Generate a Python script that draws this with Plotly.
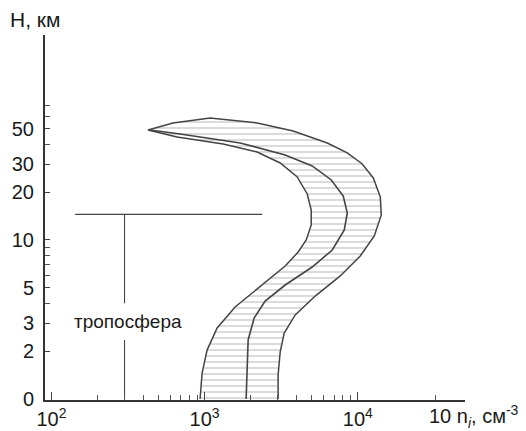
import plotly.graph_objects as go

# --- data (n_i in cm^-3, H in km) ---
# outer (right) boundary, bottom -> top -> top-left tip
right_n = [3020, 3020, 3116, 3309, 3905, 5275, 7685, 10380, 12820, 14240, 14030,
           12630, 10700, 8540, 6320, 3787, 2203, 1086, 622, 427]
right_h = [1.0, 1.42, 1.98, 2.60, 3.38, 4.44, 5.94, 7.93, 10.6, 14.36, 18.64,
           24.54, 30.06, 35.26, 40.74, 48.48, 54.43, 58.52, 54.43, 49.19]
# inner (left) boundary, tip -> bottom
left_n = [427, 661, 1321, 2203, 3116, 4024, 4677, 4967, 4967, 4607, 4084, 3358,
          2376, 1582, 1207, 1038, 963, 934]
left_h = [49.19, 44.45, 40.17, 35.77, 30.50, 24.90, 19.47, 15.44, 12.43, 10.0,
          8.41, 6.86, 5.21, 3.79, 2.80, 2.03, 1.457, 1.0]
# middle curve, tip -> bottom
mid_n = [440, 692, 1706, 3358, 5041, 6713, 8039, 8540, 8164, 6814, 5041, 3358,
         2485, 2106, 1924, 1896, 1867]
mid_h = [49.19, 46.42, 40.74, 34.24, 29.20, 23.85, 18.91, 14.79, 11.56, 8.65,
         6.76, 5.21, 4.13, 3.23, 2.35, 1.636, 1.0]

# tropopause marker
tropo_h = 14.5
tropo_n_span = [143, 2376]
tropo_n = 300
tropo_gap = [4.0, 2.35]

# ticks
y_tickvals = [1, 2, 3, 5, 10, 20, 30, 50]
y_ticktext = ["0", "2", "3", "5", "10", "20", "30", "50"]
y_minor = [4, 6, 7, 8, 9, 40, 60, 70]
x_tickvals = [100, 1000, 10000]
x_ticktext = ["10<sup>2</sup>", "10<sup>3</sup>", "10<sup>4</sup>"]
x_minor = [200, 300, 400, 500, 600, 700, 800, 900,
           2000, 3000, 4000, 5000, 6000, 7000, 8000, 9000, 32000]

FONT = "Liberation Sans"
LC = "#444444"
TC = "#1a1a1a"

fig = go.Figure()

band_n = right_n + left_n[1:]
band_h = right_h + left_h[1:]
fig.add_trace(go.Scatter(
    x=band_n, y=band_h, mode="lines", fill="toself",
    fillcolor="rgba(0,0,0,0)",
    fillpattern=dict(shape="-", size=6, solidity=0.16, fgcolor="#666666",
                     bgcolor="white"),
    line=dict(color=LC, width=1.5), hoverinfo="skip", showlegend=False))
fig.add_trace(go.Scatter(x=mid_n, y=mid_h, mode="lines",
                         line=dict(color=LC, width=1.6), showlegend=False))

# tropopause horizontal + vertical lines
fig.add_trace(go.Scatter(x=tropo_n_span, y=[tropo_h, tropo_h], mode="lines",
                         line=dict(color=LC, width=1.3), showlegend=False))
fig.add_trace(go.Scatter(x=[tropo_n, tropo_n, None, tropo_n, tropo_n],
                         y=[tropo_h, tropo_gap[0], None, tropo_gap[1], 1],
                         mode="lines", line=dict(color=LC, width=1.1),
                         showlegend=False))

# page body has an 8px margin, so the figure is sized to the visible area
fig.update_layout(
    width=518, height=423,
    margin=dict(l=37, r=61, t=27, b=31, autoexpand=False),
    paper_bgcolor="white", plot_bgcolor="white",
    font=dict(family=FONT, color=TC),
    showlegend=False,
)
fig.update_xaxes(
    type="log", range=[1.958, 4.70], automargin=False,
    showgrid=False, zeroline=False,
    showline=True, linecolor="#333333", linewidth=2,
    tickvals=x_tickvals, ticktext=x_ticktext,
    ticks="inside", ticklen=8, tickcolor="#444444", tickwidth=1,
    tickfont=dict(size=20, family=FONT, color=TC),
    ticklabelstandoff=0,
    minor=dict(tickvals=x_minor, ticks="inside", ticklen=5,
               tickcolor="#555555", tickwidth=1, showgrid=False),
)
fig.update_yaxes(
    type="log", range=[-0.0063, 2.289], automargin=False,
    showgrid=False, zeroline=False,
    showline=True, linecolor="#333333", linewidth=2,
    tickvals=y_tickvals, ticktext=y_ticktext,
    ticks="inside", ticklen=5, tickcolor="#444444", tickwidth=1.3,
    tickfont=dict(size=20, family=FONT, color=TC),
    ticklabelstandoff=5,
    minor=dict(tickvals=y_minor, ticks="inside", ticklen=5,
               tickcolor="#555555", tickwidth=1, showgrid=False),
)

fig.add_annotation(text="H, км", xref="paper", yref="paper",
                   x=-0.088, y=1.0438, xanchor="left", yanchor="middle",
                   showarrow=False, font=dict(size=21, family=FONT, color=TC))
fig.add_annotation(text="тропосфера", xref="paper", yref="paper",
                   x=0.0643, y=0.2164, xanchor="left", yanchor="middle",
                   showarrow=False, font=dict(size=19, family=FONT, color=TC))
fig.add_annotation(text="10 n<sub><i>i</i></sub>, см<sup>-3.</sup>",
                   xref="paper", yref="paper",
                   x=1.14, y=-0.045, xanchor="right", yanchor="middle",
                   showarrow=False, font=dict(size=20, family=FONT, color=TC))

fig.write_html("out.html")
